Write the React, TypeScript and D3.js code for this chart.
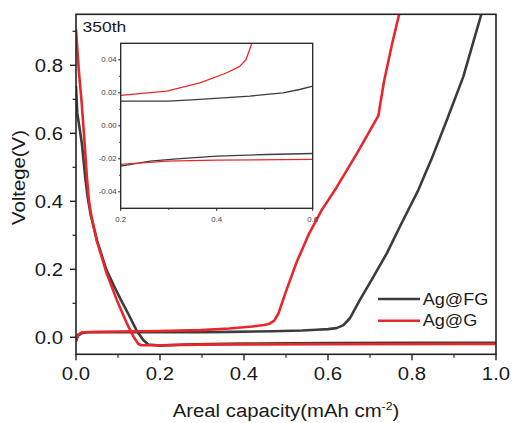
import React from "react";
import * as d3 from "d3";

// ---- data (x: areal capacity, y: voltage) ----
const fgDischarge: [number, number][] = [
  [0, 0.74], [0.003, 0.66], [0.014, 0.57], [0.022, 0.47], [0.028, 0.41], [0.035, 0.36],
  [0.05, 0.285], [0.072, 0.2], [0.09, 0.152], [0.107, 0.11], [0.124, 0.07], [0.144, 0.021],
  [0.16, -0.008], [0.172, -0.021], [0.2, -0.0244], [0.261, -0.0214], [0.317, -0.020],
  [0.4, -0.0184], [0.504, -0.0174], [0.6, -0.0168], [0.8, -0.0165], [1.0, -0.016],
];
const fgCharge: [number, number][] = [
  [0, -0.012], [0.005, 0.005], [0.015, 0.013], [0.03, 0.015], [0.2, 0.015], [0.3, 0.015],
  [0.365, 0.016], [0.469, 0.018], [0.538, 0.020], [0.573, 0.022], [0.6, 0.024], [0.62, 0.027],
  [0.636, 0.035], [0.652, 0.056], [0.676, 0.11], [0.708, 0.178], [0.74, 0.247], [0.771, 0.325],
  [0.815, 0.433], [0.85, 0.535], [0.883, 0.639], [0.922, 0.766], [0.965, 0.95], [0.975, 0.99],
];
const gDischarge: [number, number][] = [
  [0, 0.905], [0.007, 0.78], [0.0135, 0.69], [0.02, 0.58], [0.026, 0.47], [0.031, 0.4],
  [0.036, 0.36], [0.049, 0.286], [0.073, 0.188], [0.097, 0.11], [0.121, 0.041], [0.137, 0.002],
  [0.148, -0.019], [0.155, -0.0234], [0.2, -0.0234], [0.296, -0.0214], [0.4, -0.0208],
  [0.6, -0.0204], [1.0, -0.0195],
];
const gCharge: [number, number][] = [
  [0, -0.01], [0.005, 0.008], [0.015, 0.015], [0.05, 0.016], [0.1, 0.017], [0.2, 0.0184],
  [0.296, 0.021], [0.365, 0.026], [0.42, 0.032], [0.448, 0.036], [0.461, 0.040], [0.472, 0.049],
  [0.482, 0.07], [0.5, 0.135], [0.525, 0.22], [0.555, 0.305], [0.585, 0.374], [0.62, 0.44],
  [0.67, 0.543], [0.72, 0.652], [0.733, 0.75], [0.752, 0.86], [0.77, 0.953], [0.775, 0.99],
];

const xTicks = [0, 0.2, 0.4, 0.6, 0.8, 1.0];
const xMinor = [0.1, 0.3, 0.5, 0.7, 0.9];
const yTicks = [0, 0.2, 0.4, 0.6, 0.8];
const yMinor = [0.1, 0.3, 0.5, 0.7, 0.9];
const insetXTicks = [0.2, 0.4, 0.6];
const insetXMinor = [0.3, 0.5];
const insetYTicks = [-0.04, -0.02, 0, 0.02, 0.04];
const insetYMinor = [-0.03, -0.01, 0.01, 0.03];

const seriesNames = ["Ag@FG", "Ag@G"];
const BLACK = "#3c3c3c";
const RED = "#e8272b";
const SX = 1.13;

function T({ x, y, size, anchor = "start", fill = "#1a1a1a", rotate = 0, children }: any) {
  return (
    <text
      transform={`translate(${x},${y}) rotate(${rotate}) scale(${SX},1)`}
      fontSize={size}
      textAnchor={anchor}
      fill={fill}
      fontFamily="'Liberation Sans', Arial, sans-serif"
    >
      {children}
    </text>
  );
}

export default function App() {
  const x = d3.scaleLinear().domain([0, 1]).range([76, 496]);
  const y = d3.scaleLinear().domain([-0.05, 0.95]).range([354.3, 14.3]);
  const ix = d3.scaleLinear().domain([0.2, 0.6]).range([120.7, 312.7]);
  const iy = d3.scaleLinear().domain([-0.05, 0.05]).range([208.3, 43.3]);

  const line = d3.line<[number, number]>().x((d) => x(d[0])).y((d) => y(d[1]));
  const iline = d3.line<[number, number]>().x((d) => ix(d[0])).y((d) => iy(d[1]));

  const fmt = d3.format(".1f");
  const ifmt = d3.format(".2f");
  const ifmtX = d3.format(".1f");

  const [x0, x1] = x.range();
  const [yb, yt] = y.range();
  const [ix0, ix1] = ix.range();
  const [iyb, iyt] = iy.range();

  return (
    <svg width={513} height={423} style={{ position: "absolute", left: 0, top: 0 }}>
      <defs>
        <clipPath id="mainClip">
          <rect x={x0} y={yt} width={x1 - x0} height={yb - yt} />
        </clipPath>
        <clipPath id="insetClip">
          <rect x={ix0} y={iyt} width={ix1 - ix0} height={iyb - iyt} />
        </clipPath>
      </defs>
      <rect width={513} height={423} fill="#fff" />

      {/* main curves */}
      <g clipPath="url(#mainClip)" fill="none" strokeWidth={2.6} strokeLinejoin="round">
        <path d={line(fgDischarge) || ""} stroke={BLACK} />
        <path d={line(fgCharge) || ""} stroke={BLACK} />
        <path d={line(gDischarge) || ""} stroke={RED} />
        <path d={line(gCharge) || ""} stroke={RED} />
      </g>

      {/* main frame */}
      <rect x={x0} y={yt} width={x1 - x0} height={yb - yt} fill="none" stroke="#222" strokeWidth={1.6} />

      {/* x ticks */}
      {xTicks.map((t) => (
        <g key={"xt" + t}>
          <line x1={x(t)} x2={x(t)} y1={yb} y2={yb + 6} stroke="#222" strokeWidth={1.4} />
          <T x={x(t)} y={380} size={18} anchor="middle">{fmt(t)}</T>
        </g>
      ))}
      {xMinor.map((t) => (
        <line key={"xm" + t} x1={x(t)} x2={x(t)} y1={yb} y2={yb + 3.5} stroke="#222" strokeWidth={1.2} />
      ))}
      {yTicks.map((t) => (
        <g key={"yt" + t}>
          <line x1={x0 - 6} x2={x0} y1={y(t)} y2={y(t)} stroke="#222" strokeWidth={1.4} />
          <T x={63} y={y(t) + 6.5} size={18} anchor="end">{fmt(t)}</T>
        </g>
      ))}
      {yMinor.map((t) => (
        <line key={"ym" + t} x1={x0 - 3.5} x2={x0} y1={y(t)} y2={y(t)} stroke="#222" strokeWidth={1.2} />
      ))}

      {/* axis titles */}
      <T x={286} y={417} size={18} anchor="middle">
        Areal capacity(mAh cm<tspan fontSize={11} dy={-7}>-2</tspan><tspan dy={7}>)</tspan>
      </T>
      <T x={25} y={177.5} size={18} anchor="middle" rotate={-90}>Voltege(V)</T>

      <T x={82.5} y={31.7} size={15.5}>350th</T>

      {/* legend */}
      {seriesNames.map((n, i) => (
        <g key={n}>
          <line x1={378} x2={420} y1={299 + i * 21.7} y2={299 + i * 21.7} stroke={i === 0 ? BLACK : RED} strokeWidth={2.6} />
          <T x={422.7} y={304.5 + i * 21.3} size={16}>{n}</T>
        </g>
      ))}

      {/* inset */}
      <rect x={ix0} y={iyt} width={ix1 - ix0} height={iyb - iyt} fill="#fff" />
      <g clipPath="url(#insetClip)" fill="none" strokeWidth={1.3} strokeLinejoin="round">
        <path d={iline(fgDischarge) || ""} stroke={BLACK} />
        <path d={iline(fgCharge) || ""} stroke={BLACK} />
        <path d={iline(gDischarge) || ""} stroke={RED} />
        <path d={iline(gCharge) || ""} stroke={RED} />
      </g>
      <rect x={ix0} y={iyt} width={ix1 - ix0} height={iyb - iyt} fill="none" stroke="#222" strokeWidth={1.3} />
      {insetXTicks.map((t) => (
        <g key={"ixt" + t}>
          <line x1={ix(t)} x2={ix(t)} y1={iyb} y2={iyb + 2.5} stroke="#222" strokeWidth={1} />
          <T x={ix(t)} y={221.5} size={7} anchor="middle" fill="#444">{ifmtX(t)}</T>
        </g>
      ))}
      {insetXMinor.map((t) => (
        <line key={"ixm" + t} x1={ix(t)} x2={ix(t)} y1={iyb} y2={iyb + 1.5} stroke="#222" strokeWidth={1} />
      ))}
      {insetYTicks.map((t) => (
        <g key={"iyt" + t}>
          <line x1={ix0 - 2.5} x2={ix0} y1={iy(t)} y2={iy(t)} stroke="#222" strokeWidth={1} />
          <T x={ix0 - 4} y={iy(t) + 2.5} size={7} anchor="end" fill="#444">{ifmt(t).replace("−", "-")}</T>
        </g>
      ))}
      {insetYMinor.map((t) => (
        <line key={"iym" + t} x1={ix0 - 1.5} x2={ix0} y1={iy(t)} y2={iy(t)} stroke="#222" strokeWidth={1} />
      ))}
    </svg>
  );
}
